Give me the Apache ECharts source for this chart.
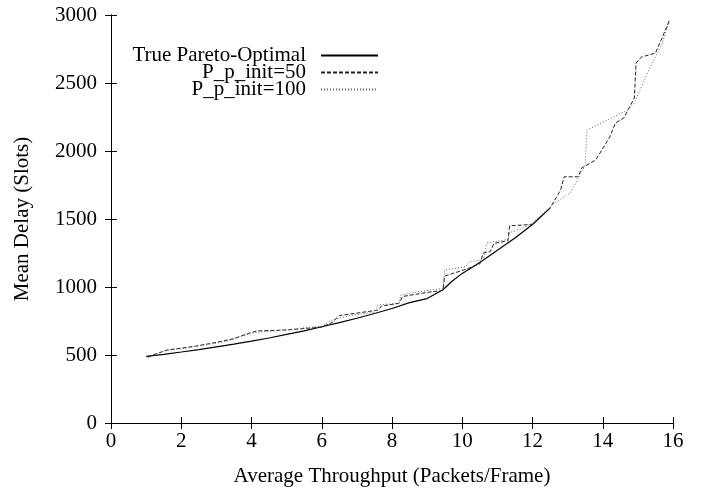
<!DOCTYPE html>
<html>
<head>
<meta charset="utf-8">
<script src="https://cdn.jsdelivr.net/npm/echarts@6/dist/echarts.min.js"></script>
<style>html,body{margin:0;padding:0;background:#fff}#c{width:704px;height:492px}</style>
</head>
<body>
<div id="c"></div>
<script>
var seriesNames = ['True Pareto-Optimal', 'P_p_init=50', 'P_p_init=100'];
var xTicks = [0, 2, 4, 6, 8, 10, 12, 14, 16];
var yTicks = [0, 500, 1000, 1500, 2000, 2500, 3000];

var paretoData = [[1.0,490],[1.5,505],[2.0,522],[2.5,540],[3.0,560],[3.5,580],[4.0,602],[4.5,625],[5.0,652],[5.5,678],[6.0,708],[6.5,738],[7.0,770],[7.5,805],[8.0,842],[8.5,885],[9.0,915],[9.45,980],[9.7,1040],[10.0,1100],[10.5,1180],[11.0,1270],[11.5,1360],[12.0,1460],[12.5,1580]];

var init50Data = [[1.05,485],[1.3,510],[1.6,537],[2.0,550],[2.4,565],[2.9,588],[3.5,620],[3.95,662],[4.15,677],[5.0,684],[6.0,705],[6.3,740],[6.5,790],[7.0,808],[7.6,830],[7.7,860],[8.2,880],[8.3,930],[9.0,960],[9.45,975],[9.5,1080],[10.1,1130],[10.5,1170],[10.6,1250],[10.8,1260],[10.9,1320],[11.3,1340],[11.35,1450],[12.0,1460],[12.5,1580],[12.8,1713],[12.9,1810],[13.3,1810],[13.4,1875],[13.8,1934],[14.2,2103],[14.36,2205],[14.6,2243],[14.9,2390],[14.95,2647],[15.1,2691],[15.5,2720],[15.7,2838],[15.9,2963]];

var init100Data = [[1.05,480],[1.5,530],[2.0,545],[2.7,575],[3.3,600],[3.6,630],[4.1,665],[5.0,685],[5.5,700],[6.0,712],[6.3,757],[6.8,790],[7.5,815],[7.6,868],[8.2,880],[8.25,940],[8.7,963],[9.45,990],[9.5,1125],[10.1,1150],[10.2,1184],[10.6,1200],[10.7,1323],[11.3,1350],[11.35,1400],[11.7,1430],[12.0,1470],[12.55,1603],[13.07,1691],[13.35,1823],[13.5,1897],[13.55,2154],[14.3,2250],[14.7,2300],[14.9,2353],[15.35,2618],[15.7,2794],[15.9,2963]];

var FONT = 'Liberation Serif';
var FS = 21;
var chart = echarts.init(document.getElementById('c'), null, {renderer: 'canvas'});

function mkLegend(name, top) {
  return {
    data: [name], right: 325, top: top, align: 'right',
    itemWidth: 57, itemHeight: 10, padding: 0, selectedMode: false,
    itemStyle: {opacity: 0},
    textStyle: {fontFamily: FONT, fontSize: FS, color: '#000', padding: [0, 10, 0, 0]}
  };
}

var axisLine = {show: true, lineStyle: {color: '#000', width: 1}};
var tick = {show: true, inside: true, length: 6, lineStyle: {color: '#000'}};
chart.setOption({
  animation: false,
  backgroundColor: '#fff',
  grid: {left: 111, right: 31, top: 15, bottom: 69},
  legend: [mkLegend(seriesNames[0], 45), mkLegend(seriesNames[1], 62), mkLegend(seriesNames[2], 79)],
  xAxis: [{
    type: 'value', min: xTicks[0], max: xTicks[xTicks.length - 1], interval: 2,
    name: 'Average Throughput (Packets/Frame)', nameLocation: 'middle', nameGap: 43,
    nameTextStyle: {fontFamily: FONT, fontSize: FS, color: '#000'},
    axisLine: axisLine, axisTick: tick,
    axisLabel: {fontFamily: FONT, fontSize: FS, color: '#000', margin: 8, formatter: function (v) { return String(v); }},
    splitLine: {show: false}
  }, {
    type: 'value', position: 'top', min: xTicks[0], max: xTicks[xTicks.length - 1], interval: 2,
    axisLine: axisLine, axisTick: tick, axisLabel: {show: false}, splitLine: {show: false}
  }],
  yAxis: [{
    type: 'value', min: yTicks[0], max: yTicks[yTicks.length - 1], interval: 500,
    name: 'Mean Delay (Slots)', nameLocation: 'middle', nameGap: 78,
    nameTextStyle: {fontFamily: FONT, fontSize: FS, color: '#000'},
    axisLine: axisLine, axisTick: tick,
    axisLabel: {fontFamily: FONT, fontSize: FS, color: '#000', margin: 14, formatter: function (v) { return String(v); }},
    splitLine: {show: false}
  }, {
    type: 'value', position: 'right', min: yTicks[0], max: yTicks[yTicks.length - 1], interval: 500,
    axisLine: axisLine, axisTick: tick, axisLabel: {show: false}, splitLine: {show: false}
  }],
  series: [{
    name: seriesNames[0], type: 'line', data: paretoData, showSymbol: false, symbol: 'none',
    lineStyle: {color: '#000', width: 1.2, type: 'solid'}, itemStyle: {color: '#000'}
  }, {
    name: seriesNames[1], type: 'line', data: init50Data, showSymbol: false, symbol: 'none',
    lineStyle: {color: '#222', width: 1, type: [4, 2]}, itemStyle: {color: '#222'}
  }, {
    name: seriesNames[2], type: 'line', data: init100Data, showSymbol: false, symbol: 'none',
    lineStyle: {color: '#666', width: 1, type: [1, 2]}, itemStyle: {color: '#666'}
  }]
});
</script>
</body>
</html>
